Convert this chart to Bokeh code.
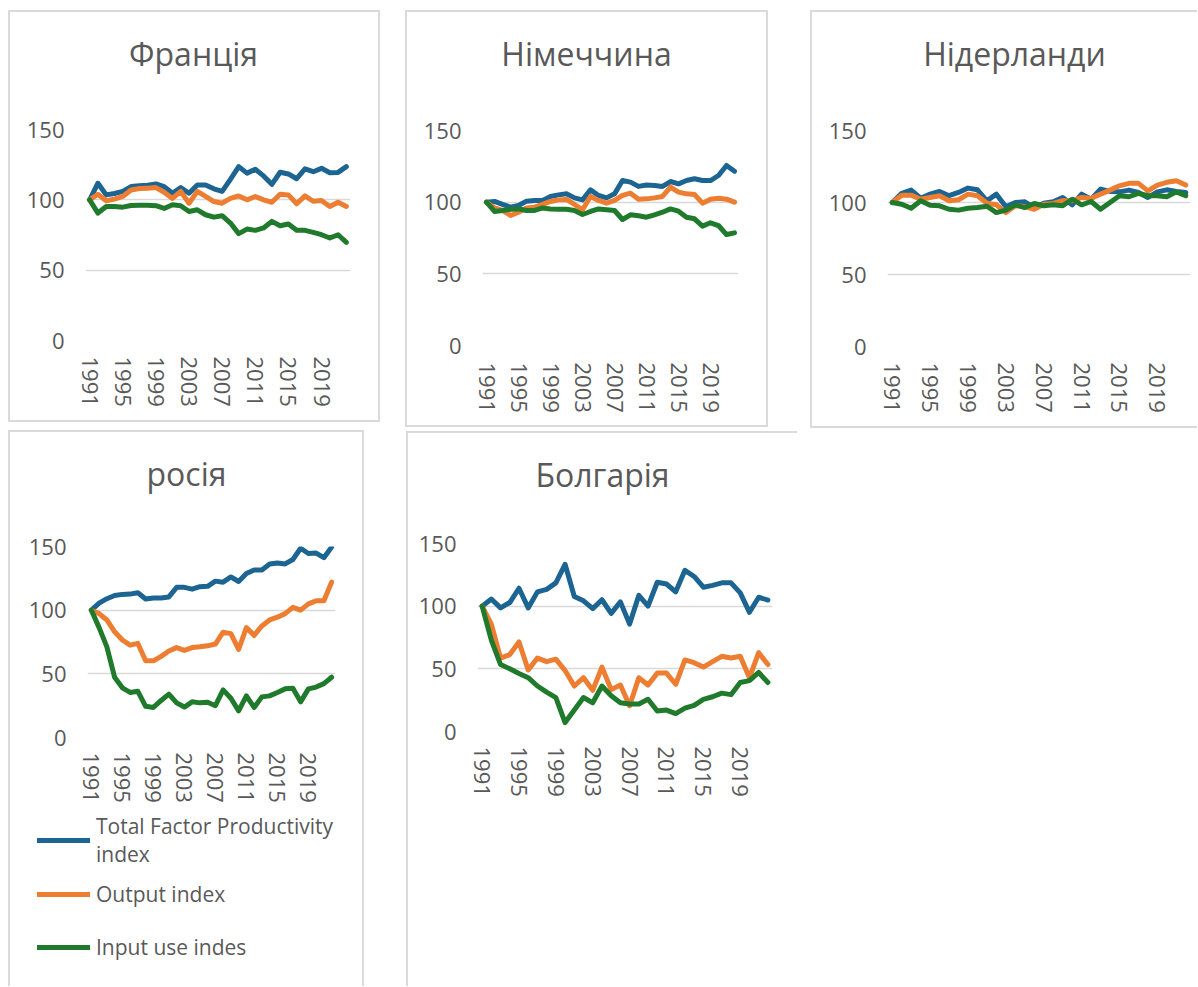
from bokeh.plotting import figure
from bokeh.layouts import row, column
from bokeh.models import Range1d, FixedTicker, Legend, LegendItem, Spacer, Label
from bokeh.embed import file_html
from bokeh.resources import INLINE

years = list(range(1991, 2023))
x_ticks = list(range(1991, 2020, 4))
y_ticks = [0, 50, 100, 150]
series_labels = ["Total Factor Productivity\nindex", "Output index", "Input use indes"]
series_colors = ["#1c6491", "#ed7d31", "#1f7a2c"]

fr_tfp = [100, 111.8, 103.5, 104.5, 106, 109.4, 110, 110.4, 111.3, 109.4, 104.7, 108.7, 104.7, 110.6, 110.6, 107.8,
          106, 114.6, 123.6, 119, 121.7, 117, 111, 119.6, 118.4, 115, 122, 120, 122.4, 119.3, 119.5, 123.6]
fr_out = [100, 104, 99.3, 100.5, 102.4, 107, 108, 108.3, 108.7, 105.4, 101, 106, 97.6, 106, 102.4, 98.8,
          97.6, 101, 102.8, 100, 102.4, 100, 98.3, 104, 103.5, 97.2, 102.8, 99, 99.5, 95.3, 98.3, 95.3]
fr_inp = [100, 90.6, 95.3, 95.3, 94.8, 96, 96.2, 96.2, 95.8, 93.9, 96.5, 95.8, 91.7, 92.9, 89.4, 87.7,
          88.7, 83.5, 76, 79.2, 78.3, 80, 84.7, 81.6, 82.8, 78.3, 78.3, 76.9, 75.2, 72.9, 75.2, 69.8]

de_tfp = [100, 100.5, 98.4, 96.5, 97.7, 100.7, 101.2, 101.2, 104, 105.1, 105.8, 103, 101.6, 108.6, 104.7, 103,
          105.8, 115.1, 114, 111, 112, 111.6, 111, 114.4, 112.8, 115.1, 116.3, 115.1, 115.1, 118.6, 125.6, 121.6]
de_out = [100, 96, 94.2, 90.7, 93, 96, 96.5, 98.4, 100.5, 101.6, 101.9, 98.4, 94.7, 104, 101.2, 99.3,
          101.2, 104.7, 106.3, 102.1, 102.3, 103, 104, 110.5, 107, 105.8, 105.3, 99.3, 102.1, 102.8, 102.1, 100]
de_inp = [100, 93.5, 94.2, 95.1, 95.3, 94.2, 94.2, 96, 95.3, 95.1, 95.1, 94.2, 91.4, 93.5, 95.3, 94.7,
          94.2, 87.9, 91.2, 90.5, 89.5, 91.2, 93, 95.3, 93.7, 89.5, 88.4, 83.3, 85.6, 83.7, 77.4, 78.6]

nl_tfp = [100, 106.3, 108.6, 103, 105.8, 107.7, 104.7, 107, 110, 108.8, 101.2, 105.8, 97, 100, 100.5, 96.5,
          99.5, 100.5, 103.5, 98.4, 105.8, 102.3, 109.3, 107.7, 107.4, 108.6, 107, 103.5, 107.4, 108.8, 107.7, 107]
nl_out = [100, 105.1, 105.1, 102.3, 103.5, 104.7, 101.2, 101.9, 105.8, 104.7, 99.5, 98.4, 93, 97.7, 97.2, 95.3,
          98.8, 99.3, 101.2, 101.2, 103.5, 103, 105.8, 108.6, 111.6, 113.3, 113.3, 108.1, 112.1, 114, 115.1, 112.1]
nl_inp = [100, 98.8, 96, 101.2, 98.1, 97.7, 95.3, 94.7, 96, 96.5, 97.4, 93, 94.7, 98.4, 96.5, 99.3,
          97.7, 98.4, 97.7, 102.3, 98.4, 100.7, 95.3, 100, 104.7, 104, 106.3, 104.7, 104.7, 104, 107.4, 104.7]

ru_tfp = [100, 105.5, 109, 111.5, 112.4, 112.6, 113.7, 108.8, 109.6, 109.6, 110.4, 117.9, 117.9, 116.5, 118.4, 118.7,
          122.8, 122, 126.1, 122.5, 128.8, 131.6, 131.6, 136.3, 137.1, 136.3, 139.8, 148.6, 144.5, 144.8, 141.2, 149.5]
ru_out = [100, 97.3, 92.3, 83, 76.6, 72.5, 73.9, 60.2, 60.2, 63.7, 67.9, 70.6, 68.4, 70.6, 71.2, 72,
          73.4, 82.7, 81.6, 69.2, 86.3, 80.2, 87.6, 92.3, 94.5, 97.3, 102.2, 100, 104.9, 107.4, 107.4, 122]
ru_inp = [100, 86.3, 71.2, 47.3, 39, 35.4, 36.3, 24.5, 23.6, 29.1, 34.1, 27.2, 23.9, 28, 27.2, 27.7,
          25, 37.4, 30.8, 20.9, 32.7, 23.6, 31.9, 32.7, 35.4, 38.2, 38.7, 28, 38.2, 39.6, 42.3, 47.3]

bg_tfp = [100, 105.7, 98.6, 102.9, 114.3, 98.6, 111.4, 113.4, 118.6, 133.4, 107.7, 104.3, 98, 105.1, 94.3, 103.4,
          85.7, 108.6, 100, 119.1, 117.7, 111.4, 128.6, 123.7, 115.1, 116.6, 118.6, 118.6, 110.6, 95.1, 107.1, 104.9]
bg_out = [100, 85.7, 58.6, 61.4, 71.4, 49.1, 58.6, 55.7, 57.7, 48.6, 36.3, 42.9, 32.9, 51.4, 33.4, 37.1,
          20.6, 42.9, 37.1, 46.6, 46.6, 37.7, 57.1, 54.9, 51.4, 55.7, 60, 58.6, 60, 42.9, 62.9, 53.4]
bg_inp = [100, 72.9, 53.4, 50, 46.3, 42.9, 36.3, 31.4, 27.1, 7.1, 17.1, 27.1, 22.9, 36.3, 28.6, 22.9,
          22, 22, 25.7, 16.3, 17.1, 14.3, 18.6, 20.9, 25.7, 27.7, 30.6, 29.4, 39.1, 40.6, 47.1, 39.1]

FONT = "Open Sans"
TXT = "#595959"
BORDER = "#dadada"
LINE_W = 5
TICK_FS = "22px"

SIDE_SHADOW = {
    "l": "inset 2px 0 0 0 " + BORDER,
    "t": "inset 0 2px 0 0 " + BORDER,
    "r": "inset -2px 0 0 0 " + BORDER,
    "b": "inset 0 -2px 0 0 " + BORDER,
}


def shadow(sides):
    return {"box-shadow": ", ".join(SIDE_SHADOW[s] for s in sides)}


def no_align(f):
    if "frame_align" in f.properties():
        f.frame_align = False
    return f


def title_panel(name, W, H, ml, mr, tx, base_from_top, sides):
    q = figure(width=W, height=H, output_backend="svg", toolbar_location=None,
               x_range=Range1d(0, 1), y_range=Range1d(0, 1),
               x_axis_location=None, y_axis_location=None,
               min_border_left=ml, min_border_right=mr, min_border_top=0, min_border_bottom=0,
               border_fill_color=None, background_fill_color=None,
               outline_line_color=None, styles=shadow(sides))
    no_align(q)
    q.grid.visible = False
    q.add_layout(Label(x=tx, y=H - base_from_top, x_units="screen", y_units="screen", text=name,
                       text_font=FONT, text_font_size="32px", text_color=TXT,
                       text_align="center", text_baseline="alphabetic"))
    return q


def plot_panel(series, W, H, ml, mr, mt, mb, xstand, sides):
    p = figure(width=W, height=H, output_backend="svg", toolbar_location=None,
               x_range=Range1d(1990.5, 2022.5), y_range=Range1d(0, 150),
               min_border_left=ml, min_border_right=mr, min_border_top=mt, min_border_bottom=mb,
               border_fill_color=None, background_fill_color=None, outline_line_color=None,
               styles=shadow(sides))
    no_align(p)
    p.xgrid.visible = False
    p.ygrid.grid_line_color = "#d9d9d9"
    p.ygrid.grid_line_width = 1.5
    p.ygrid.ticker = FixedTicker(ticks=y_ticks)

    p.yaxis.ticker = FixedTicker(ticks=y_ticks)
    p.xaxis.ticker = FixedTicker(ticks=x_ticks)
    for ax in (p.xaxis, p.yaxis):
        ax.axis_line_color = None
        ax.major_tick_line_color = None
        ax.minor_tick_line_color = None
        ax.major_label_text_font = FONT
        ax.major_label_text_color = TXT
        ax.major_label_text_font_size = TICK_FS
    p.yaxis.major_label_standoff = 15
    p.xaxis.major_label_orientation = "vertical"
    p.xaxis.major_label_standoff = xstand

    for vals, col in zip(series, series_colors):
        p.line(years, vals, line_color=col, line_width=LINE_W, line_join="round", line_cap="round")
    return p


def legend_panel(series, W, H, lx, ltop, item_h, sides):
    q = figure(width=W, height=H, output_backend="svg", toolbar_location=None,
               x_range=Range1d(1990.5, 2022.5), y_range=Range1d(0, 150),
               x_axis_location=None, y_axis_location=None,
               min_border=0, border_fill_color=None, background_fill_color=None,
               outline_line_color=None, styles=shadow(sides))
    no_align(q)
    q.grid.visible = False
    rends = [q.line(years, vals, line_color=c, line_width=LINE_W, line_cap="round", visible=False)
             for vals, c in zip(series, series_colors)]
    lg = Legend(items=[LegendItem(label=lab, renderers=[r]) for lab, r in zip(series_labels, rends)],
                location=(lx, H - ltop - 3 * item_h), orientation="vertical",
                glyph_width=53, glyph_height=20, label_standoff=6, label_height=item_h,
                label_text_font=FONT, label_text_font_size="21px", label_text_color=TXT,
                label_text_line_height=1.4,
                border_line_color=None, background_fill_alpha=0, padding=0, margin=0, spacing=0)
    q.add_layout(lg)
    return q


fr = column(title_panel("Франція", 372, 90, 77, 30, 108, 43, "ltr"),
            plot_panel([fr_tfp, fr_out, fr_inp], 372, 322, 77, 30, 29, 82, 10, "lrb"))
de = column(title_panel("Німеччина", 363, 90, 77, 30, 104, 43, "ltr"),
            plot_panel([de_tfp, de_out, de_inp], 363, 327, 77, 30, 30, 82, 11, "lrb"))
nl = column(title_panel("Нідерланди", 387, 90, 77, 7, 127, 43, "lt"),
            plot_panel([nl_tfp, nl_out, nl_inp], 387, 328, 77, 7, 30, 82, 10, "lb"))
ru = column(title_panel("росія", 356, 90, 79, 29, 99, 43, "ltr"),
            plot_panel([ru_tfp, ru_out, ru_inp], 356, 285, 79, 29, 26, 64, 9, "lr"),
            legend_panel([ru_tfp, ru_out, ru_inp], 356, 181, 29, 9.5, 53, "lr"))
bg = column(title_panel("Болгарія", 391, 90, 71, 25, 125, 43, "lt"),
            plot_panel([bg_tfp, bg_out, bg_inp], 391, 465, 71, 25, 22, 255, 9, "l"))

top = row(Spacer(width=8), fr, Spacer(width=25), de, Spacer(width=42), nl)
bottom = row(Spacer(width=8), ru, Spacer(width=42), column(Spacer(height=1), bg))
layout = column(Spacer(height=10), top, Spacer(height=2), bottom)

open("out.html", "w").write(file_html(layout, INLINE))
